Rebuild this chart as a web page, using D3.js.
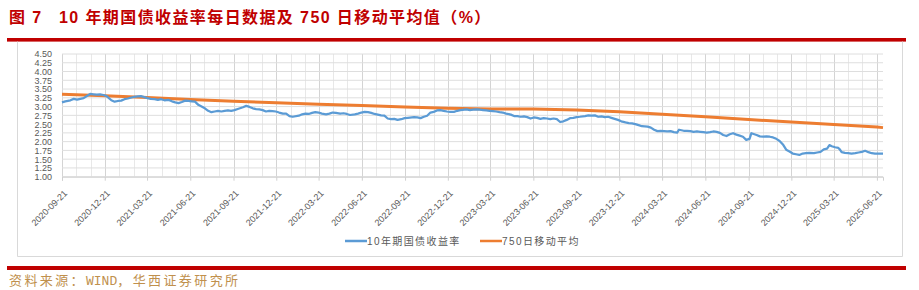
<!DOCTYPE html>
<html>
<head>
<meta charset="utf-8">
<script src="https://cdn.jsdelivr.net/npm/d3@7/dist/d3.min.js"></script>
<style>
  body { margin: 0; background: #fff; }
  svg { display: block; }
</style>
</head>
<body>
<svg id="chart" width="919" height="290"></svg>
<script>

// titel en bronvermelding
var titleLead = "图 7";
var titleMain = "10 年期国债收益率每日数据及 750 日移动平均值（%）";
var sourceText = "资料来源：WIND，华西证券研究所";

// legenda
var seriesNames = ["10年期国债收益率", "750日移动平均"];

// y-as ticks
var yTicks = [1.00, 1.25, 1.50, 1.75, 2.00, 2.25, 2.50, 2.75, 3.00, 3.25, 3.50, 3.75, 4.00, 4.25, 4.50];

// x-as labels (elk kwartaal)
var xTickLabels = ["2020-09-21", "2020-12-21", "2021-03-21", "2021-06-21", "2021-09-21",
  "2021-12-21", "2022-03-21", "2022-06-21", "2022-09-21", "2022-12-21", "2023-03-21",
  "2023-06-21", "2023-09-21", "2023-12-21", "2024-03-21", "2024-06-21", "2024-09-21",
  "2024-12-21", "2025-03-21", "2025-06-21"];

var yieldSeries = [
  ["2020-09-21", 3.12], ["2020-09-28", 3.15], ["2020-10-09", 3.18], ["2020-10-16", 3.22],
  ["2020-10-23", 3.20], ["2020-10-30", 3.22], ["2020-11-06", 3.24], ["2020-11-13", 3.30],
  ["2020-11-20", 3.36], ["2020-11-27", 3.35], ["2020-12-04", 3.34], ["2020-12-11", 3.35],
  ["2020-12-18", 3.33], ["2020-12-25", 3.30], ["2021-01-04", 3.18], ["2021-01-11", 3.14],
  ["2021-01-18", 3.16], ["2021-01-25", 3.17], ["2021-02-01", 3.21], ["2021-02-08", 3.23],
  ["2021-02-22", 3.28], ["2021-03-01", 3.29], ["2021-03-08", 3.30], ["2021-03-15", 3.27],
  ["2021-03-22", 3.24], ["2021-03-29", 3.22], ["2021-04-06", 3.21], ["2021-04-13", 3.19],
  ["2021-04-20", 3.21], ["2021-04-27", 3.18], ["2021-05-06", 3.19], ["2021-05-13", 3.15],
  ["2021-05-20", 3.12], ["2021-05-27", 3.10], ["2021-06-03", 3.13], ["2021-06-10", 3.17],
  ["2021-06-17", 3.16], ["2021-06-24", 3.15], ["2021-07-01", 3.14], ["2021-07-08", 3.05],
  ["2021-07-15", 3.00], ["2021-07-22", 2.95], ["2021-07-29", 2.88], ["2021-08-05", 2.84],
  ["2021-08-12", 2.86], ["2021-08-19", 2.88], ["2021-08-26", 2.86], ["2021-09-02", 2.88],
  ["2021-09-09", 2.89], ["2021-09-16", 2.88], ["2021-09-23", 2.90], ["2021-09-30", 2.93],
  ["2021-10-11", 2.98], ["2021-10-18", 3.02], ["2021-10-25", 2.99], ["2021-11-01", 2.95],
  ["2021-11-08", 2.93], ["2021-11-15", 2.92], ["2021-11-22", 2.90], ["2021-11-29", 2.86],
  ["2021-12-06", 2.88], ["2021-12-13", 2.87], ["2021-12-20", 2.86], ["2021-12-27", 2.83],
  ["2022-01-04", 2.80], ["2022-01-11", 2.80], ["2022-01-18", 2.73], ["2022-01-25", 2.71],
  ["2022-02-07", 2.74], ["2022-02-14", 2.78], ["2022-02-21", 2.80], ["2022-02-28", 2.79],
  ["2022-03-07", 2.82], ["2022-03-14", 2.84], ["2022-03-21", 2.83], ["2022-03-28", 2.80],
  ["2022-04-06", 2.78], ["2022-04-13", 2.80], ["2022-04-20", 2.83], ["2022-04-27", 2.82],
  ["2022-05-06", 2.80], ["2022-05-13", 2.81], ["2022-05-20", 2.79], ["2022-05-27", 2.76],
  ["2022-06-06", 2.78], ["2022-06-13", 2.80], ["2022-06-20", 2.83], ["2022-06-27", 2.85],
  ["2022-07-04", 2.84], ["2022-07-11", 2.82], ["2022-07-18", 2.79], ["2022-07-25", 2.77],
  ["2022-08-01", 2.75], ["2022-08-08", 2.74], ["2022-08-15", 2.66], ["2022-08-22", 2.64],
  ["2022-08-29", 2.65], ["2022-09-05", 2.62], ["2022-09-13", 2.64], ["2022-09-20", 2.67],
  ["2022-09-27", 2.68], ["2022-10-10", 2.70], ["2022-10-17", 2.69], ["2022-10-24", 2.67],
  ["2022-10-31", 2.71], ["2022-11-07", 2.74], ["2022-11-14", 2.83], ["2022-11-21", 2.85],
  ["2022-11-28", 2.89], ["2022-12-05", 2.90], ["2022-12-12", 2.88], ["2022-12-19", 2.86],
  ["2022-12-26", 2.85], ["2023-01-03", 2.85], ["2023-01-10", 2.88], ["2023-01-17", 2.90],
  ["2023-01-30", 2.92], ["2023-02-06", 2.90], ["2023-02-13", 2.91], ["2023-02-20", 2.92],
  ["2023-02-27", 2.91], ["2023-03-06", 2.90], ["2023-03-13", 2.89], ["2023-03-20", 2.88],
  ["2023-03-27", 2.87], ["2023-04-03", 2.86], ["2023-04-10", 2.84], ["2023-04-17", 2.83],
  ["2023-04-24", 2.80], ["2023-05-04", 2.77], ["2023-05-11", 2.73], ["2023-05-18", 2.73],
  ["2023-05-25", 2.71], ["2023-06-01", 2.72], ["2023-06-08", 2.70], ["2023-06-15", 2.66],
  ["2023-06-22", 2.69], ["2023-06-29", 2.68], ["2023-07-06", 2.65], ["2023-07-13", 2.67],
  ["2023-07-20", 2.66], ["2023-07-27", 2.64], ["2023-08-03", 2.66], ["2023-08-10", 2.64],
  ["2023-08-17", 2.56], ["2023-08-24", 2.58], ["2023-08-31", 2.62], ["2023-09-07", 2.67],
  ["2023-09-14", 2.68], ["2023-09-21", 2.70], ["2023-09-28", 2.71], ["2023-10-09", 2.73],
  ["2023-10-16", 2.75], ["2023-10-23", 2.74], ["2023-10-30", 2.75], ["2023-11-06", 2.71],
  ["2023-11-13", 2.72], ["2023-11-20", 2.70], ["2023-11-27", 2.71], ["2023-12-04", 2.68],
  ["2023-12-11", 2.65], ["2023-12-18", 2.62], ["2023-12-25", 2.58], ["2024-01-03", 2.55],
  ["2024-01-10", 2.53], ["2024-01-17", 2.52], ["2024-01-24", 2.50], ["2024-01-31", 2.47],
  ["2024-02-07", 2.44], ["2024-02-19", 2.43], ["2024-02-26", 2.40], ["2024-03-04", 2.34],
  ["2024-03-11", 2.30], ["2024-03-18", 2.31], ["2024-03-25", 2.30], ["2024-04-01", 2.29],
  ["2024-04-08", 2.30], ["2024-04-15", 2.27], ["2024-04-22", 2.26], ["2024-04-26", 2.34],
  ["2024-05-06", 2.31], ["2024-05-13", 2.31], ["2024-05-20", 2.30], ["2024-05-27", 2.28],
  ["2024-06-03", 2.29], ["2024-06-10", 2.28], ["2024-06-17", 2.27], ["2024-06-24", 2.26],
  ["2024-07-01", 2.27], ["2024-07-08", 2.29], ["2024-07-15", 2.28], ["2024-07-22", 2.25],
  ["2024-07-29", 2.19], ["2024-08-05", 2.16], ["2024-08-12", 2.21], ["2024-08-19", 2.24],
  ["2024-08-26", 2.20], ["2024-09-02", 2.17], ["2024-09-09", 2.14], ["2024-09-16", 2.05],
  ["2024-09-23", 2.08], ["2024-09-27", 2.24], ["2024-10-08", 2.19], ["2024-10-15", 2.15],
  ["2024-10-22", 2.14], ["2024-10-29", 2.15], ["2024-11-05", 2.14], ["2024-11-12", 2.12],
  ["2024-11-19", 2.08], ["2024-11-26", 2.02], ["2024-12-03", 1.92], ["2024-12-10", 1.77],
  ["2024-12-17", 1.72], ["2024-12-24", 1.66], ["2024-12-31", 1.64], ["2025-01-07", 1.62],
  ["2025-01-14", 1.66], ["2025-01-21", 1.67], ["2025-01-28", 1.68], ["2025-02-07", 1.67],
  ["2025-02-14", 1.69], ["2025-02-21", 1.71], ["2025-02-28", 1.78], ["2025-03-07", 1.80],
  ["2025-03-12", 1.90], ["2025-03-17", 1.87], ["2025-03-24", 1.84], ["2025-03-31", 1.82],
  ["2025-04-03", 1.78], ["2025-04-07", 1.70], ["2025-04-14", 1.68], ["2025-04-21", 1.67],
  ["2025-04-28", 1.66], ["2025-05-06", 1.67], ["2025-05-13", 1.69], ["2025-05-20", 1.71],
  ["2025-05-27", 1.74], ["2025-06-03", 1.70], ["2025-06-10", 1.67], ["2025-06-17", 1.66],
  ["2025-06-24", 1.66], ["2025-07-04", 1.66]
];

var maSeries = [
  ["2020-09-21", 3.35], ["2020-12-21", 3.31], ["2021-03-21", 3.26], ["2021-06-21", 3.20],
  ["2021-09-21", 3.15], ["2021-12-21", 3.11], ["2022-03-21", 3.07], ["2022-06-21", 3.03],
  ["2022-09-21", 2.99], ["2022-12-21", 2.95], ["2023-03-21", 2.93], ["2023-06-21", 2.93],
  ["2023-09-21", 2.90], ["2023-12-21", 2.85], ["2024-03-21", 2.78], ["2024-06-21", 2.71],
  ["2024-09-21", 2.63], ["2024-12-21", 2.56], ["2025-03-21", 2.49], ["2025-06-21", 2.42],
  ["2025-07-04", 2.40]
];

// constante maten van het plotgebied
var plot = {left: 62, right: 883, top: 54, bottom: 176.7};
var colors = {yield: "#5b9bd5", ma: "#ed7d31", red: "#c00000", grid: "#dedede", text: "#595959"};

var parseDate = d3.utcParse("%Y-%m-%d");
var numFont = "'Liberation Sans', Arial, sans-serif";
var cjkFont = "'Liberation Sans', 'Noto Sans CJK SC', sans-serif";

var svg = d3.select("#chart");

// schalen
var xScale = d3.scaleUtc()
    .domain([parseDate("2020-09-21"), parseDate("2025-07-04")])
    .range([plot.left, plot.right]);

var yScale = d3.scaleLinear()
    .domain([1, 4.5])
    .range([plot.bottom, plot.top]);

// titel
var title = svg.append("text")
    .attr("y", 23)
    .attr("fill", colors.red)
    .style("font-family", cjkFont)
    .style("font-size", "16px")
    .style("font-weight", "bold")
    .style("letter-spacing", "1.4px");
title.append("tspan").attr("x", 9).text(titleLead);
title.append("tspan").attr("x", 59).text(titleMain);

// rode balken boven en onder
svg.append("rect").attr("x", 7).attr("y", 38).attr("width", 899).attr("height", 3.6).attr("fill", colors.red);
svg.append("rect").attr("x", 7).attr("y", 266).attr("width", 899).attr("height", 4).attr("fill", colors.red);

// grijze kader
svg.append("path")
    .attr("d", "M17.5,41.6V256.5H902.5V41.6")
    .attr("fill", "none")
    .attr("stroke", "#d9d9d9")
    .attr("stroke-width", 1);

// verticale hulplijnen per maand, donkerder per kwartaal
var monthLines = d3.utcMonth.range(parseDate("2020-09-01"), parseDate("2025-07-01"))
    .map(function(d) { return new Date(Date.UTC(d.getUTCFullYear(), d.getUTCMonth(), 21)); });

svg.append("g")
    .attr("class", "x-grid")
  .selectAll("line")
    .data(monthLines)
    .enter()
    .append("line")
    .attr("x1", function(d) { return Math.round(xScale(d)) + 0.5; })
    .attr("x2", function(d) { return Math.round(xScale(d)) + 0.5; })
    .attr("y1", plot.top)
    .attr("y2", plot.bottom)
    .attr("stroke", function(d) { return (d.getUTCMonth() % 3 === 2) ? "#d4d4d4" : "#e8e8e8"; })
    .attr("stroke-width", 1);

// horizontale hulplijnen
svg.append("g")
    .attr("class", "y-grid")
  .selectAll("line")
    .data(yTicks)
    .enter()
    .append("line")
    .attr("x1", plot.left)
    .attr("x2", plot.right)
    .attr("y1", function(d) { return yScale(d); })
    .attr("y2", function(d) { return yScale(d); })
    .attr("stroke", colors.grid)
    .attr("stroke-width", 1);

// y-as
var yAxis = svg.append("g")
    .attr("class", "y-axis")
    .attr("transform", "translate(" + plot.left + ",0)")
    .call(d3.axisLeft(yScale)
      .tickValues(yTicks)
      .tickSize(0)
      .tickPadding(10)
      .tickFormat(d3.format(".2f")));
yAxis.select(".domain").remove();
yAxis.selectAll("text")
    .attr("fill", colors.text)
    .style("font-family", numFont)
    .style("font-size", "9px");

// x-as
var xAxis = svg.append("g")
    .attr("class", "x-axis")
    .attr("transform", "translate(0," + plot.bottom + ")")
    .call(d3.axisBottom(xScale)
      .tickValues(xTickLabels.map(parseDate))
      .tickSize(4)
      .tickFormat(d3.utcFormat("%Y-%m-%d")));
xAxis.select(".domain")
    .attr("stroke", "#d0d0d0");
xAxis.selectAll(".tick line")
    .attr("stroke", "#d0d0d0");
xAxis.selectAll("text")
    .attr("x", 0)
    .attr("y", 0)
    .attr("dy", "0.35em")
    .attr("transform", "translate(3,15) rotate(-45)")
    .style("text-anchor", "end")
    .attr("fill", colors.text)
    .style("font-family", numFont)
    .style("font-size", "9px");

// lijnen
var line = d3.line()
    .x(function(d) { return xScale(parseDate(d[0])); })
    .y(function(d) { return yScale(d[1]); });

svg.append("path")
    .datum(maSeries)
    .attr("class", "line-ma")
    .attr("d", line)
    .attr("fill", "none")
    .attr("stroke", colors.ma)
    .attr("stroke-width", 3);

svg.append("path")
    .datum(yieldSeries)
    .attr("class", "line-yield")
    .attr("d", line)
    .attr("fill", "none")
    .attr("stroke", colors.yield)
    .attr("stroke-width", 2.25)
    .attr("stroke-linejoin", "round");

// legenda
var legendItems = [
  {name: seriesNames[0], color: colors.yield, x: 345},
  {name: seriesNames[1], color: colors.ma, x: 480}
];
var legend = svg.append("g").attr("class", "legend")
  .selectAll("g")
    .data(legendItems)
    .enter()
    .append("g")
    .attr("transform", function(d) { return "translate(" + d.x + ",241)"; });
legend.append("line")
    .attr("x1", 0).attr("x2", 22)
    .attr("stroke", function(d) { return d.color; })
    .attr("stroke-width", 2.5);
legend.append("text")
    .attr("x", 22)
    .attr("dy", "0.35em")
    .attr("fill", colors.text)
    .style("font-family", cjkFont)
    .style("font-size", "10px")
    .style("letter-spacing", "1.4px")
    .text(function(d) { return d.name; });

// bron: latijnse letters zonder extra spatiering
var source = svg.append("text")
    .attr("x", 9)
    .attr("y", 285)
    .attr("fill", "#c0904d")
    .style("font-family", "'Liberation Mono', 'Noto Sans CJK SC', monospace")
    .style("font-size", "13px");
source.selectAll("tspan")
    .data(sourceText.split(/([A-Za-z]+)/))
    .enter()
    .append("tspan")
    .style("letter-spacing", function(d) { return /[A-Za-z]/.test(d) ? "0px" : "2.4px"; })
    .text(function(d) { return d; });

</script>
</body>
</html>
